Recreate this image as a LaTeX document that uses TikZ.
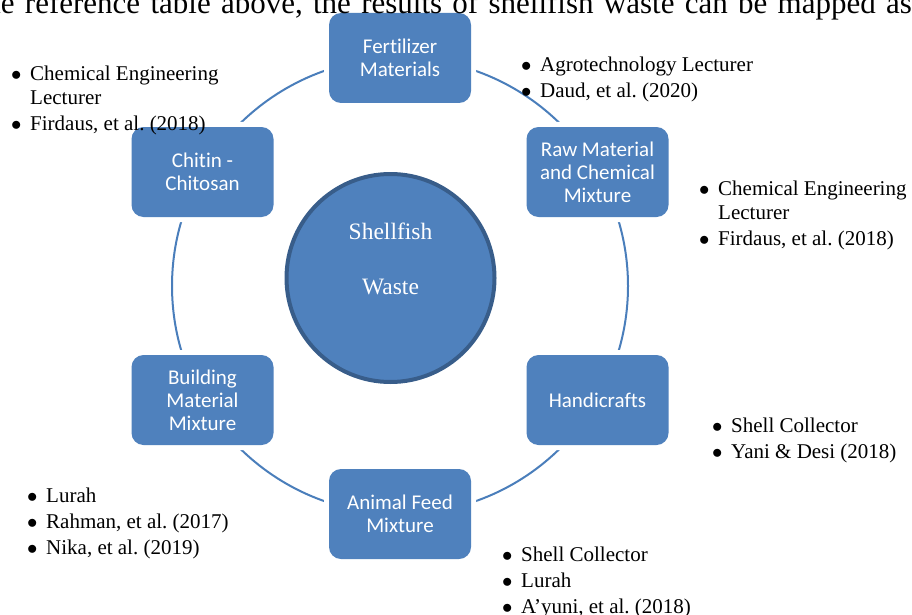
\documentclass[tikz,border=0pt]{standalone}
\usepackage{fontspec}
\setmainfont{Liberation Serif}
\newfontfamily\boxfont[Ligatures=NoCommon]{Carlito}
\definecolor{cycleblue}{HTML}{4F81BD}
\definecolor{hubedge}{HTML}{385D8A}
\definecolor{ringblue}{HTML}{4A7EBB}
\newcommand{\refbullet}{\strut\makebox[18.5pt][l]{\hspace{-0.5pt}$\bullet$}}
\newcommand{\refindent}{\hspace*{18.5pt}}
\frenchspacing
\tikzset{
  stage/.style={rectangle, rounded corners=12pt, fill=cycleblue, minimum width=142pt, minimum height=90pt,
    inner sep=2pt, text=white, align=center, font=\boxfont\fontsize{21}{23}\selectfont,
    preaction={draw=white, line width=10pt}},
  reflist/.style={anchor=north west, inner sep=0pt, align=left, font=\fontsize{21}{24}\selectfont},
}
\begin{document}
\begin{tikzpicture}[x=1pt, y=1pt]
    \useasboundingbox (0,-615) rectangle (912,0);
    \clip (0,-615) rectangle (912,0);
    \coordinate (ring) at (400,-286);
    \draw[ringblue, line width=2pt] (ring) circle[radius=228];
    \node[circle, fill=cycleblue, draw=hubedge, line width=4pt, minimum size=208pt, inner sep=0pt] (waste) at (390.5,-278) {};
    \node[text=white, align=center, font=\fontsize{23.5}{55}\selectfont] (wastetext) at (390.5,-258.5) {Shellfish\\Waste};
    \node[stage] (fert) at (400,-58) {Fertilizer\\Materials};
    \node[stage] (raw) at (597.5,-172) {Raw Material\\and Chemical\\Mixture};
    \node[stage] (handi) at (597.5,-400) {Handicrafts};
    \node[stage] (feed) at (400,-514) {Animal Feed\\Mixture};
    \node[stage] (build) at (202.5,-400) {Building\\Material\\Mixture};
    \node[stage] (chitin) at (202.5,-172) {Chitin -\\Chitosan};
    \node[anchor=base east, inner sep=0pt, font=\fontsize{31}{36}\selectfont] (intro) at (912,-13.5)
        {\makebox[935pt][s]{the reference table above, the results of shellfish waste can be mapped as}};
    \node[reflist] (chitinrefs) at (11.5,-63.2) {\refbullet Chemical Engineering\\\refindent Lecturer\\[2pt]\refbullet Firdaus, et al. (2018)};
    \node[reflist] (fertrefs) at (521.5,-54.2) {\refbullet Agrotechnology Lecturer\\[2pt]\refbullet Daud, et al. (2020)};
    \node[reflist] (rawrefs) at (699.5,-178.2) {\refbullet Chemical Engineering\\\refindent Lecturer\\[2pt]\refbullet Firdaus, et al. (2018)};
    \node[reflist] (handirefs) at (712.5,-415.2) {\refbullet Shell Collector\\[2pt]\refbullet Yani \& Desi (2018)};
    \node[reflist] (feedrefs) at (502.5,-544.2) {\refbullet Shell Collector\\[2pt]\refbullet Lurah\\[2pt]\refbullet A’yuni, et al. (2018)};
    \node[reflist] (buildrefs) at (27.5,-485.2) {\refbullet Lurah\\[2pt]\refbullet Rahman, et al. (2017)\\[2pt]\refbullet Nika, et al. (2019)};
\end{tikzpicture}
\end{document}
